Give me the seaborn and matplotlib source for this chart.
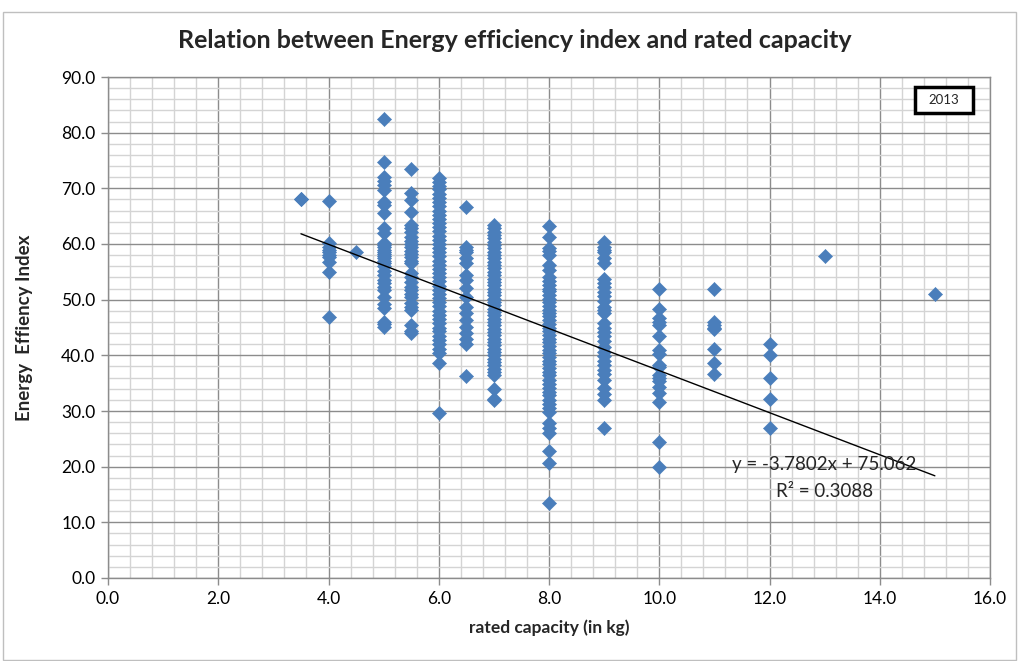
import matplotlib
matplotlib.use("Agg")
import matplotlib.pyplot as plt
import seaborn as sns
import pandas as pd
from matplotlib.ticker import MultipleLocator, FormatStrFormatter
from matplotlib.patches import Rectangle

# ---- data ----
cap_35 = [68.0, 68.1]
cap_4 = [67.7, 60.2, 59.5, 59.0, 58.5, 58.0, 57.7, 56.8, 55.0, 46.9]
cap_45 = [58.6]
cap_5 = [82.4, 74.8, 72.1, 71.4, 70.6, 69.7, 67.6, 67.0, 65.6, 62.9, 62.0, 60.2,
         59.8, 59.4, 59.0, 58.6, 58.2, 57.8, 57.4, 57.0, 56.6, 56.0, 55.2, 54.4,
         53.6, 53.0, 52.3, 51.7, 50.5, 49.2, 48.5, 46.0, 45.6, 45.1]
cap_55 = [73.4, 69.1, 67.9, 65.8, 63.4, 62.8, 62.2, 61.3, 60.6, 60.0, 59.4, 58.8,
          58.2, 57.6, 57.0, 56.6, 54.8, 54.0, 53.2, 52.3, 51.7, 51.0, 50.5, 49.4,
          48.7, 48.1, 45.4, 44.4, 44.0]
cap_6 = [71.8, 71.2, 70.5, 69.8, 69.0, 68.3, 67.5, 66.8, 66.0, 65.2, 64.5, 63.8,
         63.0, 62.3, 61.5, 60.8, 60.0, 59.3, 58.5, 57.8, 57.0, 56.3, 55.5, 54.8,
         54.0, 53.3, 52.5, 51.8, 51.0, 50.3, 49.5, 48.8, 48.0, 47.3, 46.5, 45.8,
         45.0, 44.3, 43.5, 42.8, 42.0, 41.2, 40.4, 38.6, 29.6]
cap_65 = [66.7, 59.5, 59.0, 58.5, 57.5, 56.6, 54.4, 53.5, 52.1, 50.5, 48.7, 47.6,
          46.3, 45.1, 44.0, 43.0, 42.0, 36.2]
cap_7 = [63.4, 62.8, 62.2, 61.6, 61.0, 60.4, 59.8, 59.2, 58.6, 58.0, 57.4, 56.8,
         56.2, 55.6, 55.0, 54.4, 53.8, 53.2, 52.6, 52.0, 51.4, 50.8, 50.2, 49.6,
         49.0, 48.4, 47.8, 47.2, 46.6, 46.0, 45.4, 44.8, 44.2, 43.6, 43.0, 42.4,
         41.8, 41.2, 40.6, 40.0, 39.4, 38.8, 38.2, 37.6, 37.0, 36.4, 33.9, 32.0, 32.2]
cap_8 = [63.2, 61.3, 59.3, 58.8, 58.0, 56.2, 55.3, 54.0, 53.4, 52.7, 52.0, 51.5,
         50.8, 50.2, 49.5, 48.9, 48.2, 47.6, 47.0, 46.3, 45.6, 45.0, 44.3, 43.6,
         43.0, 42.4, 41.7, 41.0, 40.4, 39.7, 39.0, 38.4, 37.7, 37.0, 36.4, 35.6,
         34.9, 34.2, 33.5, 32.8, 32.0, 31.3, 30.6, 29.9, 27.8, 27.0, 26.0, 22.9,
         20.7, 13.4]
cap_9 = [60.4, 59.5, 59.0, 58.5, 57.5, 56.6, 53.8, 53.0, 52.2, 51.4, 50.6, 49.8,
         48.7, 48.1, 47.6, 45.8, 45.0, 44.2, 43.4, 42.6, 41.5, 40.6, 39.8, 39.0,
         38.2, 37.4, 36.6, 35.6, 34.1, 33.0, 32.0, 26.9]
cap_10 = [51.9, 48.4, 46.7, 46.0, 45.4, 43.5, 41.0, 40.2, 38.3, 37.9, 36.5, 36.0,
          35.3, 34.4, 33.2, 31.7, 24.5, 20.0]
cap_11 = [51.9, 46.0, 45.5, 45.0, 44.8, 41.1, 38.6, 36.6]
cap_12 = [42.0, 40.1, 36.0, 32.2, 26.9]
cap_13 = [57.9]
cap_15 = [51.0]

capacities = [3.5, 4, 4.5, 5, 5.5, 6, 6.5, 7, 8, 9, 10, 11, 12, 13, 15]
groups = [cap_35, cap_4, cap_45, cap_5, cap_55, cap_6, cap_65, cap_7, cap_8,
          cap_9, cap_10, cap_11, cap_12, cap_13, cap_15]

slope, intercept = -3.7802, 75.062
trend_x = [3.5, 15]

rows = []
for c, vals in zip(capacities, groups):
    for v in vals:
        rows.append((c, v))
df = pd.DataFrame(rows, columns=["capacity", "eei"])

# ---- style ----
sns.set_theme(style="white")
plt.rcParams["font.family"] = ["Lato", "DejaVu Sans"]

W, H = 1021, 661
fig = plt.figure(figsize=(W / 100, H / 100), dpi=100)
ax = fig.add_axes([108 / W, 1 - 578 / H, (990 - 108) / W, (578 - 77) / H])

# outer frame
fig.patches.append(Rectangle((3 / W, 1 / H), (1016 - 3) / W, (649 - 1) / H,
                             transform=fig.transFigure, fill=False,
                             edgecolor="#BFBFBF", linewidth=1.0))

ax.set_xlim(0, 16)
ax.set_ylim(0, 90)
ax.xaxis.set_major_locator(MultipleLocator(2))
ax.xaxis.set_minor_locator(MultipleLocator(0.4))
ax.yaxis.set_major_locator(MultipleLocator(10))
ax.yaxis.set_minor_locator(MultipleLocator(2))
ax.xaxis.set_major_formatter(FormatStrFormatter("%.1f"))
ax.yaxis.set_major_formatter(FormatStrFormatter("%.1f"))

ax.grid(which="minor", color="#D4D4D4", linewidth=1.0)
ax.grid(which="major", color="#8C8C8C", linewidth=1.0)
ax.set_axisbelow(True)

for s in ax.spines.values():
    s.set_color("#8C8C8C")
    s.set_linewidth(1.0)

ax.tick_params(which="major", direction="out", length=5, width=1, color="#8C8C8C",
               labelsize=12.5, labelcolor="black", pad=4,
               bottom=True, left=True)
ax.tick_params(which="minor", length=0)

sns.scatterplot(data=df, x="capacity", y="eei", marker="D", s=52,
                color="#4A7EBB", edgecolor="#4A7EBB", linewidth=0.4, ax=ax,
                zorder=3, legend=False)

ax.plot(trend_x, [slope * x + intercept for x in trend_x], color="black",
        linewidth=1.0, zorder=4)

ax.set_xlabel("rated capacity (in kg)", fontsize=12.5, fontweight="bold", labelpad=9)
ax.set_ylabel("Energy  Effiency Index", fontsize=13.5, fontweight="bold", labelpad=20)

fig.text(515 / W, 1 - 40 / H, "Relation between Energy efficiency index and rated capacity",
         ha="center", va="center", fontsize=18, fontweight="bold")

ax.text(13.0, 20.3, "y = -3.7802x + 75.062", fontsize=13.5,
        ha="center", va="center", zorder=5)
ax.text(13.0, 15.6, "R² = 0.3088", fontsize=13.5, ha="center", va="center", zorder=5)

# "2013" label box
fig.patches.append(Rectangle((915 / W, 1 - 113 / H), 58 / W, 26 / H,
                             transform=fig.transFigure, facecolor="white",
                             edgecolor="black", linewidth=2.5, zorder=6))
fig.text(944 / W, 1 - 100 / H, "2013", fontsize=9.5, ha="center", va="center",
         zorder=7)

fig.savefig("out.png", dpi=100)
